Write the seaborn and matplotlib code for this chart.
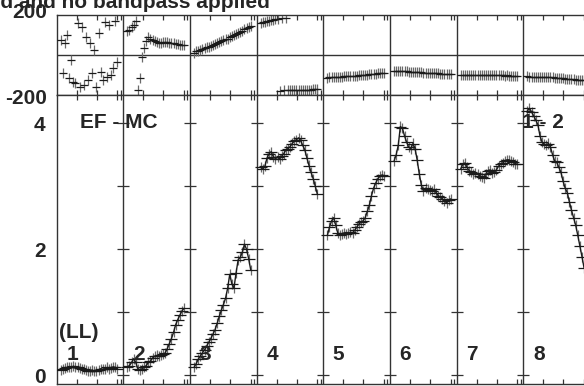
import numpy as np
import pandas as pd
import matplotlib
matplotlib.use("Agg")
import matplotlib.pyplot as plt
import seaborn as sns

# ---------------- data ----------------
if_labels = ["1", "2", "3", "4", "5", "6", "7", "8"]
n_chan = 28

amp_if1 = [0.08, 0.10, 0.11, 0.12, 0.13, 0.12, 0.14, 0.13, 0.12, 0.11, 0.10, 0.09, 0.08, 0.07,
           0.07, 0.08, 0.06, 0.07, 0.08, 0.10, 0.09, 0.10, 0.12, 0.10, 0.11, 0.13, 0.12, 0.10]
amp_if2 = [0.13, 0.15, 0.20, 0.26, 0.20, 0.10, 0.08, 0.10, 0.12, 0.15, 0.20, 0.22, 0.27, 0.30,
           0.31, 0.30, 0.32, 0.33, 0.35, 0.42, 0.50, 0.58, 0.68, 0.80, 0.88, 0.95, 1.02, 1.06]
amp_if3 = [0.12, 0.18, 0.25, 0.30, 0.35, 0.40, 0.46, 0.52, 0.58, 0.65, 0.72, 0.82, 0.93, 1.03,
           1.12, 1.22, 1.38, 1.60, 1.45, 1.38, 1.62, 1.83, 1.87, 1.95, 2.08, 2.00, 1.85, 1.67]
amp_if4 = [3.30, 3.27, 3.32, 3.45, 3.52, 3.55, 3.47, 3.44, 3.46, 3.44, 3.48, 3.52, 3.58, 3.60,
           3.63, 3.68, 3.72, 3.74, 3.77, 3.73, 3.65, 3.58, 3.45, 3.33, 3.22, 3.12, 3.00, 2.87]
amp_if5 = [2.22, 2.35, 2.45, 2.50, 2.38, 2.25, 2.22, 2.24, 2.26, 2.24, 2.25, 2.27, 2.26, 2.30,
           2.35, 2.40, 2.43, 2.45, 2.50, 2.60, 2.70, 2.85, 2.97, 3.05, 3.12, 3.16, 3.18, 3.17]
amp_if6 = [3.40, 3.50, 3.65, 3.95, 3.92, 3.80, 3.70, 3.62, 3.60, 3.68, 3.60, 3.42, 3.20, 3.02,
           2.92, 2.97, 2.96, 2.94, 2.92, 2.95, 2.90, 2.85, 2.83, 2.80, 2.76, 2.74, 2.78, 2.80]
amp_if7 = [3.28, 3.35, 3.37, 3.30, 3.25, 3.23, 3.20, 3.21, 3.20, 3.17, 3.15, 3.13, 3.20, 3.25,
           3.26, 3.21, 3.22, 3.26, 3.32, 3.35, 3.37, 3.40, 3.42, 3.42, 3.40, 3.38, 3.36, 3.35]
amp_if8 = [4.20, 4.24, 4.18, 4.12, 4.05, 3.98, 3.80, 3.70, 3.67, 3.65, 3.68, 3.62, 3.50, 3.40,
           3.38, 3.30, 3.22, 3.08, 2.97, 2.90, 2.75, 2.62, 2.50, 2.38, 2.22, 2.05, 1.88, 1.70]

ph_if1 = [75, -90, 60, 100, -115, -25, -135, -140, 160, -160, 140, -150, 90, -125,
          60, -90, 25, -160, 110, -85, -125, 165, -110, 150, -100, -65, 170, -35]
ph_if2 = [120, 125, 140, 150, 170, -175, -115, -10, 35, 70, 90, 80, 75, 70,
          66, 62, 60, 65, 66, 64, 62, 60, 58, 56, 54, 52, 50, 48]
ph_if3 = [12, 18, 22, 26, 30, 34, 38, 42, 47, 52, 56, 60, 64, 68,
          74, 78, 82, 88, 94, 98, 104, 110, 116, 122, 128, 134, 140, 146]
ph_if4 = [160, 163, 166, 169, 172, 175, 177, 179, 182, -178, 184, -176, 185, -176,
          -175, -175, -175, -174, -174, -174, -174, -173, -173, -173, -173, -172, -172, -172]
ph_if5 = [-113, -112, -111, -110, -110, -109, -108, -108, -107, -106, -106, -105, -104, -103,
          -103, -102, -101, -100, -99, -98, -97, -96, -95, -94, -92, -91, -90, -88]
ph_if6 = [-78, -79, -80, -80, -81, -82, -82, -83, -84, -84, -85, -86, -86, -87,
          -88, -88, -89, -90, -90, -91, -92, -92, -93, -93, -94, -94, -95, -95]
ph_if7 = [-99, -100, -100, -101, -100, -100, -101, -100, -101, -101, -100, -101, -101, -102,
          -101, -101, -102, -102, -101, -102, -102, -103, -102, -103, -103, -103, -103, -104]
ph_if8 = [-107, -108, -108, -109, -109, -110, -110, -110, -111, -111, -111, -112, -112, -113,
          -114, -115, -116, -117, -118, -119, -120, -121, -122, -123, -124, -125, -126, -127]

amps = [amp_if1, amp_if2, amp_if3, amp_if4, amp_if5, amp_if6, amp_if7, amp_if8]
phases = [ph_if1, ph_if2, ph_if3, ph_if4, ph_if5, ph_if6, ph_if7, ph_if8]

amp_ticks = [0, 1, 2, 3, 4]
amp_tick_labels = ["0", "", "2", "", "4"]
phase_ticks = [-200, 200]
phase_tick_labels = ["-200", "200"]

# ---------------- layout constants ----------------
PANEL = 66.67            # width of one IF panel (channel units)
CH0, DCH = 4.0, 2.1      # first channel offset and channel step inside a panel
n_if = len(if_labels)

rows = []
for k in range(n_if):
    for c in range(n_chan):
        rows.append({"IF": if_labels[k], "x": k * PANEL + CH0 + c * DCH,
                     "amp": amps[k][c], "phase": phases[k][c]})
df = pd.DataFrame(rows)

sns.set_theme(style="white")
plt.rcParams["font.family"] = ["Liberation Sans", "DejaVu Sans"]
plt.rcParams["font.weight"] = "bold"
FS = 15
INK = "#1a1a1a"

W, H = 584, 386
fig = plt.figure(figsize=(W / 100, H / 100), dpi=100)
fig.patch.set_facecolor("white")

left_px, right_px = 56.7, 56.7 + n_if * PANEL
ax_ph = fig.add_axes([left_px / W, 1 - 95 / H, (right_px - left_px) / W, 80 / H])
ax_am = fig.add_axes([left_px / W, 2 / H, (right_px - left_px) / W, 289 / H])

xticks = [k * PANEL + o for k in range(n_if) for o in (20, 40, 60.5, 64)]

for ax in (ax_ph, ax_am):
    ax.set_facecolor("white")
    ax.set_xlim(0, n_if * PANEL)
    for s in ax.spines.values():
        s.set_color("#333333")
        s.set_linewidth(1.0)
    for k in range(1, n_if + 1):
        ax.axvline(k * PANEL, color="#333333", lw=1.0, zorder=1)
    ax.set_xticks(xticks)
    ax.tick_params(axis="x", direction="in", top=True, bottom=True, length=3.6,
                   width=0.9, color="#333333", labelbottom=False, labeltop=False)
    ax.grid(False)

# ---------------- phase panel ----------------
ax_ph.set_ylim(-200, 200)
ax_ph.axhline(0, color="#333333", lw=1.0, zorder=1)
ax_ph.errorbar(df["x"], df["phase"], yerr=25, fmt="none", ecolor="#6a6a6a",
               elinewidth=0.9, zorder=2)
ax_ph.errorbar(df["x"], df["phase"], xerr=4, fmt="none", ecolor=INK,
               elinewidth=0.9, zorder=3)
ax_ph.set_yticks(phase_ticks)
ax_ph.set_yticklabels([])
ax_ph.tick_params(axis="y", length=0)
ytrans = ax_ph.get_yaxis_transform()
lab_x = (47 - left_px) / (right_px - left_px)
ax_ph.text(lab_x, phase_ticks[1] + 25, phase_tick_labels[1], transform=ytrans, fontsize=FS,
           fontweight="bold", ha="right", va="center_baseline", clip_on=False)
ax_ph.text(lab_x, phase_ticks[0] - 10, phase_tick_labels[0], transform=ytrans, fontsize=FS,
           fontweight="bold", ha="right", va="center_baseline", clip_on=False)
ax_ph.set_xlabel("")
ax_ph.set_ylabel("")

# ---------------- amplitude panel ----------------
ax_am.set_ylim(-0.143, 4.451)
ax_am.errorbar(df["x"], df["amp"], yerr=0.08, fmt="none", ecolor="#6a6a6a",
               elinewidth=0.9, zorder=2)
ax_am.errorbar(df["x"], df["amp"], xerr=6, fmt="none", ecolor=INK,
               elinewidth=0.9, zorder=3)
sns.lineplot(data=df, x="x", y="amp", units="IF", estimator=None, sort=False,
             color=INK, lw=1.0, legend=False, ax=ax_am, zorder=4)
ax_am.set_yticks(amp_ticks)
ax_am.set_yticklabels(amp_tick_labels, fontsize=FS, fontweight="bold")
ax_am.tick_params(axis="y", direction="in", length=5, width=0.9, color="#333333", pad=8)
ax_am.set_xlabel("")
ax_am.set_ylabel("")
# crossing ticks on each IF separator
for k in range(1, n_if + 1):
    ax_am.plot([k * PANEL] * len(amp_ticks), amp_ticks, ls="none", marker="_",
               markersize=8.5, mew=0.9, color="#333333", zorder=1)

# ---------------- labels ----------------
for k, lab in enumerate(if_labels):
    ax_am.text(k * PANEL + 9.5, 0.318, lab, fontsize=FS, fontweight="bold",
               ha="left", va="center", zorder=6)
ax_am.text(2.5, 0.668, "(LL)", fontsize=FS, fontweight="bold", ha="left", va="center", zorder=6)
ax_am.text(23.3, 4.02, "EF - MC", fontsize=FS, fontweight="bold", ha="left", va="center", zorder=6)
ax_am.text(7 * PANEL - 1.0, 4.02, "1 - 2", fontsize=FS, fontweight="bold",
           ha="left", va="center", zorder=6)

fig.text(270 / W, 1 - 7.5 / H, "calibrated and no bandpass applied", fontsize=FS,
         fontweight="bold", ha="right", va="baseline")

fig.savefig("out.png", dpi=100, facecolor="white")
